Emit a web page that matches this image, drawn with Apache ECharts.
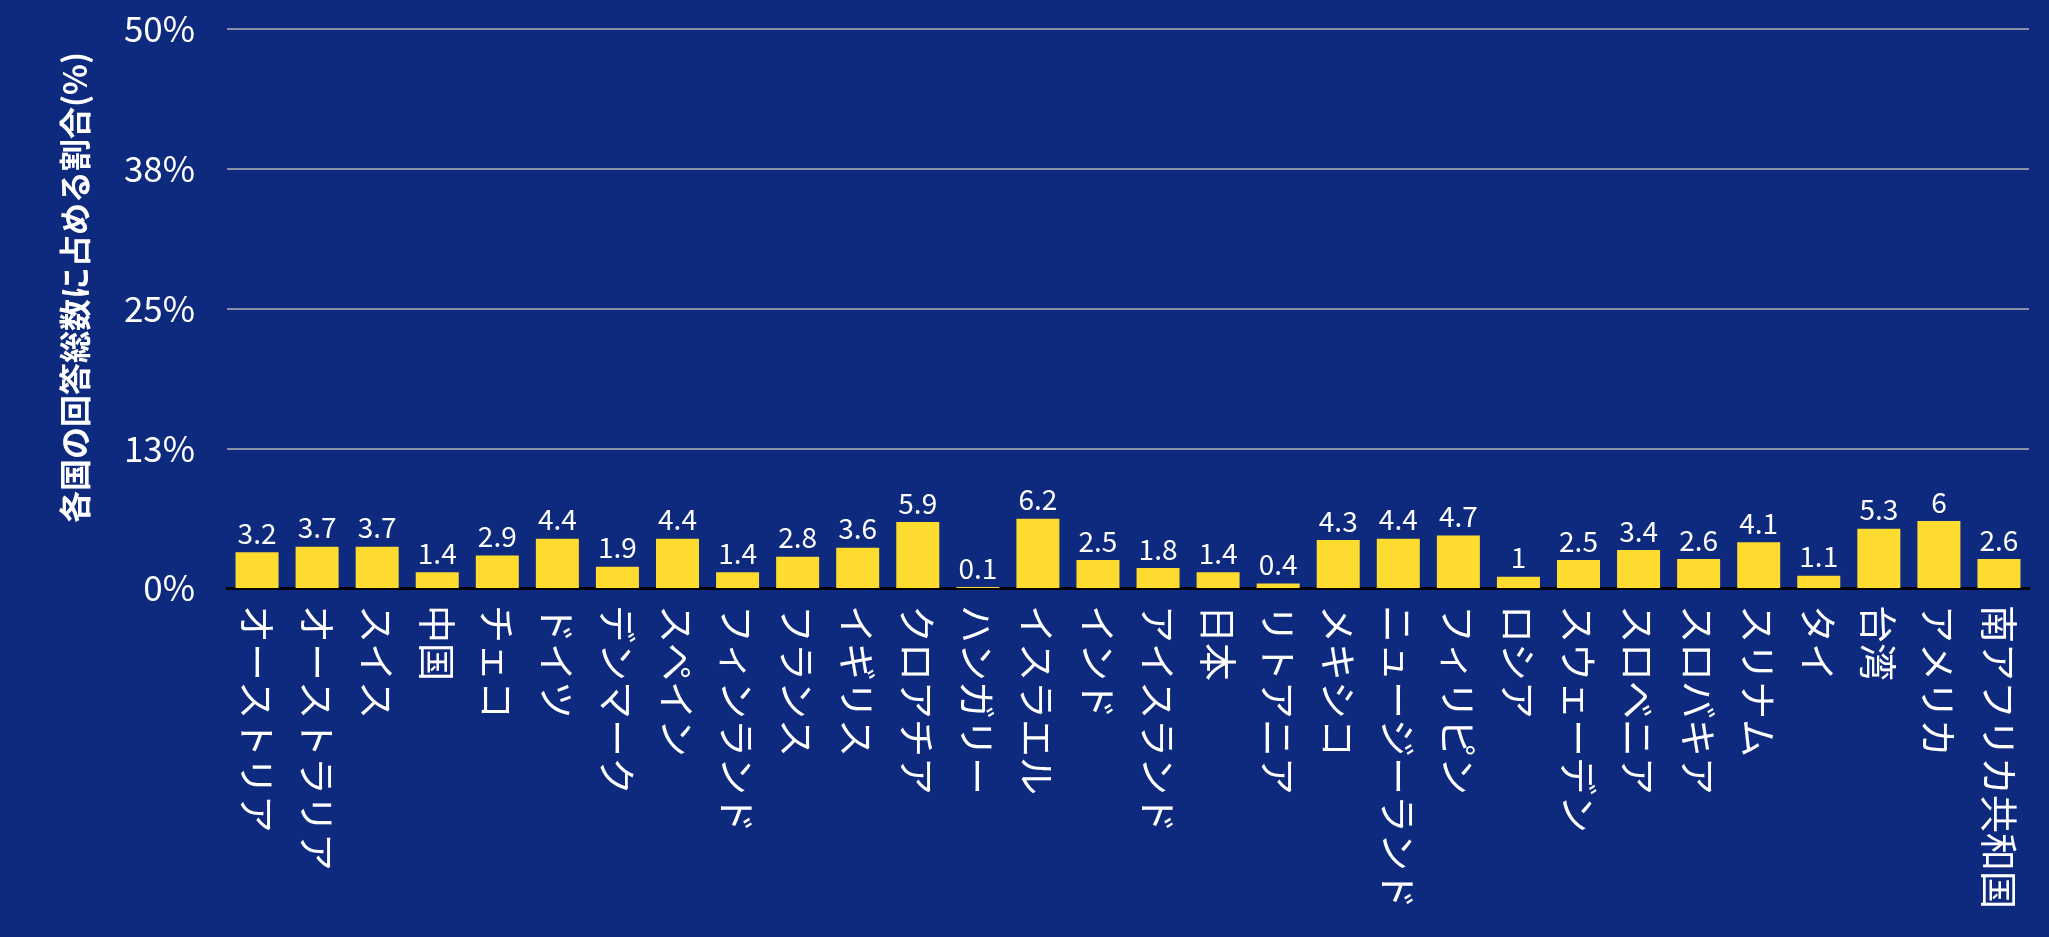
<!DOCTYPE html>
<html>
<head>
<meta charset="utf-8">
<script src="https://cdn.jsdelivr.net/npm/echarts@6/dist/echarts.min.js"></script>
<style>
  html, body { margin: 0; padding: 0; background: #0e2a7f; }
  #chart { width: 2049px; height: 937px; }
</style>
</head>
<body>
<div id="chart"></div>
<script>
// 国別の回答割合（%）
const countries = [
  'オーストリア', 'オーストラリア', 'スイス', '中国', 'チェコ', 'ドイツ',
  'デンマーク', 'スペイン', 'フィンランド', 'フランス', 'イギリス', 'クロアチア',
  'ハンガリー', 'イスラエル', 'インド', 'アイスランド', '日本', 'リトアニア',
  'メキシコ', 'ニュージーランド', 'フィリピン', 'ロシア', 'スウェーデン', 'スロベニア',
  'スロバキア', 'スリナム', 'タイ', '台湾', 'アメリカ', '南アフリカ共和国'
];
const shares = [
  3.2, 3.7, 3.7, 1.4, 2.9, 4.4,
  1.9, 4.4, 1.4, 2.8, 3.6, 5.9,
  0.1, 6.2, 2.5, 1.8, 1.4, 0.4,
  4.3, 4.4, 4.7, 1, 2.5, 3.4,
  2.6, 4.1, 1.1, 5.3, 6, 2.6
];
const yAxisTitle = '各国の回答総数に占める割合(%)';
const yMax = 50;
const yStep = 12.5;

const font = '"Noto Sans CJK JP", "Noto Sans", sans-serif';
const chart = echarts.init(document.getElementById('chart'));
chart.setOption({
  backgroundColor: '#0e2a7f',
  animation: false,
  grid: { left: 227, right: 20, top: 29, bottom: 349 },
  xAxis: {
    type: 'category',
    data: countries,
    axisLine: { show: true, lineStyle: { color: '#000000', width: 3 } },
    axisTick: { show: false },
    axisLabel: {
      rotate: -90,
      interval: 0,
      color: '#ffffff',
      fontFamily: font,
      fontSize: 38,
      margin: 17
    }
  },
  yAxis: {
    type: 'value',
    min: 0,
    max: yMax,
    interval: yStep,
    name: yAxisTitle,
    nameLocation: 'middle',
    nameGap: 136,
    nameRotate: 90,
    nameTextStyle: {
      color: '#ffffff',
      fontFamily: font,
      fontSize: 32,
      fontWeight: 'bold',
      padding: [0, 0, 0, 42]
    },
    axisLine: { show: false },
    axisTick: { show: false },
    splitLine: { lineStyle: { color: '#b4b4b4', width: 1.5 } },
    axisLabel: {
      color: '#ffffff',
      fontFamily: font,
      fontSize: 35,
      margin: 32,
      formatter: v => Math.round(v) + '%'
    }
  },
  series: [{
    type: 'bar',
    data: shares,
    barWidth: 43,
    itemStyle: { color: '#fedb2f' },
    label: {
      show: true,
      position: 'top',
      distance: 5,
      color: '#ffffff',
      fontFamily: font,
      fontSize: 28
    }
  }]
});
</script>
</body>
</html>
